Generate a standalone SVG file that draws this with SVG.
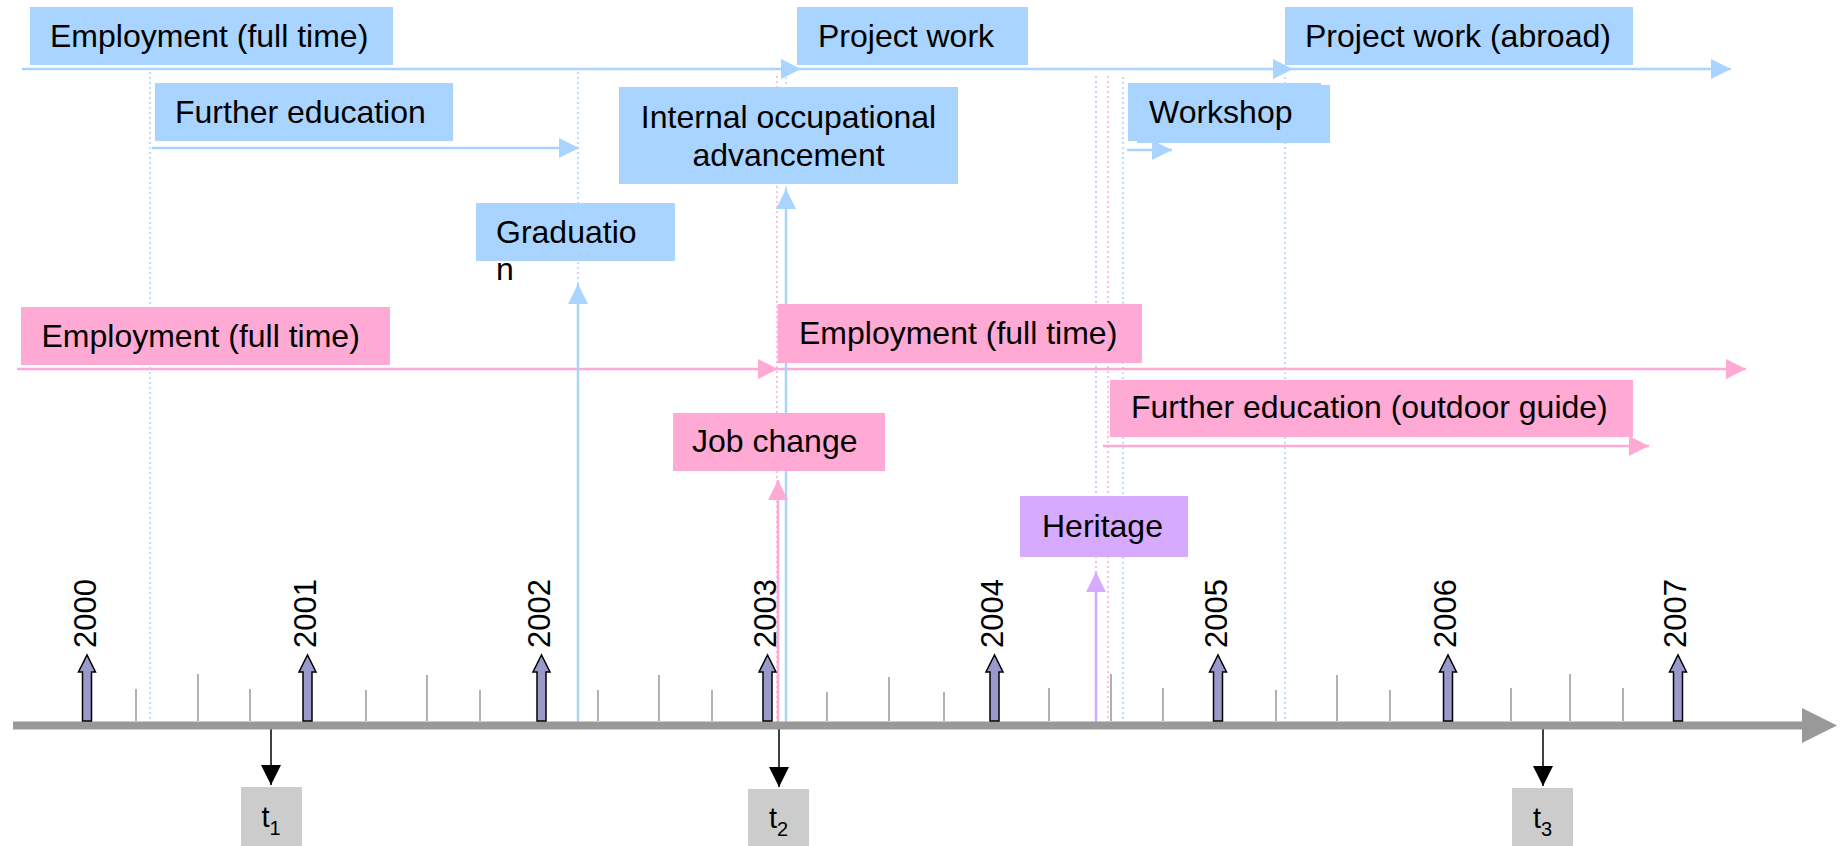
<svg xmlns="http://www.w3.org/2000/svg" width="1840" height="846" viewBox="0 0 1840 846">
<style>
text{font-family:"Liberation Sans",Arial,sans-serif;fill:#000}
.lbl{font-size:32px}
.yr{font-size:31px}
.tl{font-size:29px}
.bb{fill:#A8D4FF}
.pb{fill:#FFAAD4}
.vb{fill:#D5AAFF}
.gb{fill:#CCCCCC}
.lb{stroke:#A8D4FF;stroke-width:2.5;fill:none}
.lp{stroke:#FFAAD4;stroke-width:2.5;fill:none}
.lv{stroke:#D5AAFF;stroke-width:2.5;fill:none}
.db{stroke:#A8D4FF;stroke-width:1.5;stroke-dasharray:2 3;fill:none}
.dp{stroke:#FFAAD4;stroke-width:1.5;stroke-dasharray:2 3;fill:none}
.dv{stroke:#D5AAFF;stroke-width:1.5;stroke-dasharray:2 3;fill:none}
.tick{stroke:#999;stroke-width:1.5}
.yarr{fill:#9999CC;stroke:#000;stroke-width:1.5}
</style>
<defs>
<marker id="ab" markerUnits="userSpaceOnUse" markerWidth="21" markerHeight="21" refX="20" refY="10" orient="auto"><path d="M0,0 L20,10 L0,20 z" fill="#A8D4FF"/></marker>
<marker id="ap" markerUnits="userSpaceOnUse" markerWidth="21" markerHeight="21" refX="20" refY="10" orient="auto"><path d="M0,0 L20,10 L0,20 z" fill="#FFAAD4"/></marker>
<marker id="av" markerUnits="userSpaceOnUse" markerWidth="21" markerHeight="21" refX="20" refY="10" orient="auto"><path d="M0,0 L20,10 L0,20 z" fill="#D5AAFF"/></marker>
<marker id="ak" markerUnits="userSpaceOnUse" markerWidth="21" markerHeight="21" refX="20" refY="10" orient="auto"><path d="M0,0 L20,10 L0,20 z" fill="#000"/></marker>
</defs>

<g id="connectors">
  <!-- dotted guides -->
  <line class="db" x1="150" y1="72" x2="150" y2="722"/>
  <line class="db" x1="578" y1="72" x2="578" y2="286"/>
  <line class="db" x1="786" y1="72" x2="786" y2="191"/>
  <line class="db" x1="1123" y1="77" x2="1123" y2="722"/>
  <line class="db" x1="1285" y1="77" x2="1285" y2="722"/>
  <line class="dp" x1="777" y1="76" x2="777" y2="722"/>
  <line class="dp" x1="1108" y1="76" x2="1108" y2="722"/>
  <line class="dv" x1="1096" y1="76" x2="1096" y2="573"/>
  <!-- horizontal arrows -->
  <line class="lb" x1="22" y1="69" x2="801" y2="69" marker-end="url(#ab)"/>
  <line class="lb" x1="801" y1="69" x2="1293" y2="69" marker-end="url(#ab)"/>
  <line class="lb" x1="1293" y1="69" x2="1731" y2="69" marker-end="url(#ab)"/>
  <line class="lb" x1="152" y1="148" x2="579" y2="148" marker-end="url(#ab)"/>
  <line class="lb" x1="1127" y1="150" x2="1172" y2="150" marker-end="url(#ab)"/>
  <line class="lp" x1="17" y1="369" x2="778" y2="369" marker-end="url(#ap)"/>
  <line class="lp" x1="778" y1="369" x2="1746" y2="369" marker-end="url(#ap)"/>
  <line class="lp" x1="1103" y1="446" x2="1649" y2="446" marker-end="url(#ap)"/>
  <!-- vertical event arrows -->
  <line class="lb" x1="578" y1="722" x2="578" y2="284" marker-end="url(#ab)"/>
  <line class="lb" x1="786" y1="722" x2="786" y2="189" marker-end="url(#ab)"/>
  <line class="lp" x1="778" y1="722" x2="778" y2="480" marker-end="url(#ap)"/>
  <line class="lv" x1="1096" y1="723" x2="1096" y2="572" marker-end="url(#av)"/>
  <!-- t markers -->
  <line stroke="#000" stroke-width="1.5" x1="271" y1="729" x2="271" y2="785" marker-end="url(#ak)"/>
  <line stroke="#000" stroke-width="1.5" x1="779" y1="729" x2="779" y2="787" marker-end="url(#ak)"/>
  <line stroke="#000" stroke-width="1.5" x1="1543" y1="729" x2="1543" y2="786" marker-end="url(#ak)"/>
</g>

<g id="axis">
  <line x1="13" y1="725.5" x2="1803" y2="725.5" stroke="#999" stroke-width="8"/>
  <polygon points="1802,708 1837,725.5 1802,743" fill="#999"/>
  <g id="ticks">
    <line class="tick" x1="136" y1="689" x2="136" y2="721"/>
    <line class="tick" x1="198" y1="674" x2="198" y2="721"/>
    <line class="tick" x1="250" y1="689" x2="250" y2="721"/>
    <line class="tick" x1="366" y1="690" x2="366" y2="721"/>
    <line class="tick" x1="427" y1="675" x2="427" y2="721"/>
    <line class="tick" x1="480" y1="690" x2="480" y2="721"/>
    <line class="tick" x1="598" y1="690" x2="598" y2="721"/>
    <line class="tick" x1="659" y1="675" x2="659" y2="721"/>
    <line class="tick" x1="712" y1="690" x2="712" y2="721"/>
    <line class="tick" x1="827" y1="692" x2="827" y2="721"/>
    <line class="tick" x1="889" y1="677" x2="889" y2="721"/>
    <line class="tick" x1="944" y1="692" x2="944" y2="721"/>
    <line class="tick" x1="1049" y1="688" x2="1049" y2="721"/>
    <line class="tick" x1="1111" y1="674" x2="1111" y2="721"/>
    <line class="tick" x1="1163" y1="688" x2="1163" y2="721"/>
    <line class="tick" x1="1276" y1="690" x2="1276" y2="721"/>
    <line class="tick" x1="1337" y1="675" x2="1337" y2="721"/>
    <line class="tick" x1="1390" y1="690" x2="1390" y2="721"/>
    <line class="tick" x1="1511" y1="688" x2="1511" y2="721"/>
    <line class="tick" x1="1570" y1="674" x2="1570" y2="721"/>
    <line class="tick" x1="1623" y1="688" x2="1623" y2="721"/>
  </g>
</g>

<g id="year-2000"><polygon class="yarr" points="82.5,721 82.5,672 78.5,672 87,655 95.5,672 91.5,672 91.5,721"/><text class="yr" transform="translate(95.5,648) rotate(-90)">2000</text></g>
<g id="year-2001"><polygon class="yarr" points="303,721 303,672 299,672 307.5,655 316,672 312,672 312,721"/><text class="yr" transform="translate(316,648) rotate(-90)">2001</text></g>
<g id="year-2002"><polygon class="yarr" points="537,721 537,672 533,672 541.5,655 550,672 546,672 546,721"/><text class="yr" transform="translate(550,648) rotate(-90)">2002</text></g>
<g id="year-2003"><polygon class="yarr" points="763,721 763,672 759,672 767.5,655 776,672 772,672 772,721"/><text class="yr" transform="translate(776,648) rotate(-90)">2003</text></g>
<g id="year-2004"><polygon class="yarr" points="990,721 990,672 986,672 994.5,655 1003,672 999,672 999,721"/><text class="yr" transform="translate(1003,648) rotate(-90)">2004</text></g>
<g id="year-2005"><polygon class="yarr" points="1213.5,721 1213.5,672 1209.5,672 1218,655 1226.5,672 1222.5,672 1222.5,721"/><text class="yr" transform="translate(1226.5,648) rotate(-90)">2005</text></g>
<g id="year-2006"><polygon class="yarr" points="1443.5,721 1443.5,672 1439.5,672 1448,655 1456.5,672 1452.5,672 1452.5,721"/><text class="yr" transform="translate(1456,648) rotate(-90)">2006</text></g>
<g id="year-2007"><polygon class="yarr" points="1673.5,721 1673.5,672 1669.5,672 1678,655 1686.5,672 1682.5,672 1682.5,721"/><text class="yr" transform="translate(1686,648) rotate(-90)">2007</text></g>

<g id="blue-employment"><rect class="bb" x="30" y="7" width="363" height="58"/><text class="lbl" x="50" y="47">Employment (full time)</text></g>
<g id="further-education"><rect class="bb" x="155" y="83" width="298" height="58"/><text class="lbl" x="175" y="123">Further education</text></g>
<g id="graduation"><rect class="bb" x="476" y="203" width="199" height="58"/><text class="lbl" x="496" y="243">Graduatio</text><text class="lbl" x="496" y="280">n</text></g>
<g id="project-work"><rect class="bb" x="797" y="7" width="231" height="58"/><text class="lbl" x="818" y="47">Project work</text></g>
<g id="internal-advancement"><rect class="bb" x="619" y="87" width="339" height="97"/><text class="lbl" x="788.5" y="128" text-anchor="middle">Internal occupational</text><text class="lbl" x="788.5" y="166" text-anchor="middle">advancement</text></g>
<g id="workshop"><rect class="bb" x="1128" y="83" width="193" height="58"/><rect class="bb" x="1137" y="85" width="193" height="58"/><text class="lbl" x="1149" y="123">Workshop</text></g>
<g id="project-work-abroad"><rect class="bb" x="1285" y="7" width="348" height="58"/><text class="lbl" x="1305" y="47">Project work (abroad)</text></g>

<g id="pink-employment-1"><rect class="pb" x="21" y="307" width="369" height="58"/><text class="lbl" x="41.5" y="347">Employment (full time)</text></g>
<g id="pink-employment-2"><rect class="pb" x="777.5" y="304" width="364.5" height="59"/><text class="lbl" x="799" y="344">Employment (full time)</text></g>
<g id="job-change"><rect class="pb" x="673" y="413" width="212" height="58"/><text class="lbl" x="692" y="452">Job change</text></g>
<g id="further-education-outdoor"><rect class="pb" x="1110" y="380" width="523" height="57"/><text class="lbl" x="1131" y="418">Further education (outdoor guide)</text></g>
<g id="heritage"><rect class="vb" x="1020" y="496" width="168" height="61"/><text class="lbl" x="1042" y="537">Heritage</text></g>

<g id="t1"><rect class="gb" x="241" y="787" width="61" height="59"/><text class="tl" x="271" y="827" text-anchor="middle">t<tspan font-size="20" dy="8">1</tspan></text></g>
<g id="t2"><rect class="gb" x="748" y="789" width="61" height="57"/><text class="tl" x="778.5" y="828" text-anchor="middle">t<tspan font-size="20" dy="8">2</tspan></text></g>
<g id="t3"><rect class="gb" x="1512" y="788" width="61" height="58"/><text class="tl" x="1542.5" y="828" text-anchor="middle">t<tspan font-size="20" dy="8">3</tspan></text></g>
</svg>
